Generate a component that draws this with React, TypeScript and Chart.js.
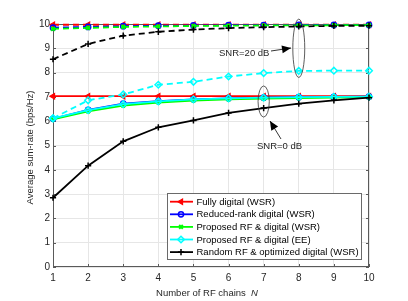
import React, { useEffect, useRef } from "react";
import { Chart, registerables } from "chart.js";
import { drawPoint } from "chart.js/helpers";

Chart.register(...registerables);

// ---------- data ----------
const CHAINS = [1, 2, 3, 4, 5, 6, 7, 8, 9, 10];
const Y_TICKS = [0, 1, 2, 3, 4, 5, 6, 7, 8, 9, 10];

// SNR = 20 dB (dashed)
const fullyDigital20 = [9.97, 9.97, 9.97, 9.97, 9.97, 9.97, 9.97, 9.97, 9.97, 9.97];
const reducedRank20 = [9.85, 9.88, 9.91, 9.93, 9.94, 9.95, 9.95, 9.96, 9.96, 9.96];
const proposedWsr20 = [9.8, 9.84, 9.88, 9.9, 9.92, 9.93, 9.94, 9.94, 9.95, 9.95];
const proposedEe20 = [6.12, 6.86, 7.1, 7.5, 7.62, 7.84, 7.98, 8.07, 8.08, 8.08];
const randomRf20 = [8.55, 9.18, 9.52, 9.68, 9.77, 9.83, 9.87, 9.9, 9.92, 9.93];

// SNR = 0 dB (solid)
const fullyDigital0 = [7.03, 7.03, 7.03, 7.03, 7.03, 7.03, 7.03, 7.03, 7.03, 7.03];
const reducedRank0 = [6.1, 6.47, 6.72, 6.83, 6.9, 6.94, 6.97, 6.99, 7.0, 7.01];
const proposedWsr0 = [6.08, 6.4, 6.64, 6.77, 6.85, 6.9, 6.93, 6.95, 6.97, 6.98];
const proposedEe0 = [6.12, 6.46, 6.7, 6.82, 6.9, 6.94, 6.97, 6.99, 7.0, 7.01];
const randomRf0 = [2.85, 4.17, 5.17, 5.75, 6.03, 6.34, 6.54, 6.72, 6.86, 6.97];

const SERIES_NAMES = [
  "Fully digital (WSR)",
  "Reduced-rank digital (WSR)",
  "Proposed RF & digital (WSR)",
  "Proposed RF & digital (EE)",
  "Random RF & optimized digital (WSR)",
];

const X_TITLE = "Number of RF chains  ";
const X_TITLE_VAR = "N";
const Y_TITLE = "Average sum-rate (bps/Hz)";
const ANNOT_20 = "SNR=20 dB";
const ANNOT_0 = "SNR=0 dB";

// ---------- styles ----------
const FONT = '"Liberation Sans", Arial, Helvetica, sans-serif';
const FS = 9.5;
const STYLES = [
  { color: "#ff0000", pointStyle: "triangle", rotation: -90, radius: 3.1, fill: "#ff0000", bw: 1.2 },
  { color: "#0000ff", pointStyle: "circle", rotation: 0, radius: 2.6, fill: "rgba(0,0,0,0)", bw: 1.5 },
  { color: "#00ff00", pointStyle: "crossRot", rotation: 0, radius: 2.6, fill: "rgba(0,0,0,0)", bw: 2 },
  { color: "#00ffff", pointStyle: "rectRot", rotation: 0, radius: 3.3, fill: "rgba(0,0,0,0)", bw: 1.5 },
  { color: "#000000", pointStyle: "cross", rotation: 0, radius: 3.1, fill: "rgba(0,0,0,0)", bw: 1.5 },
];

const SERIES_0 = [fullyDigital0, reducedRank0, proposedWsr0, proposedEe0, randomRf0];
const SERIES_20 = [fullyDigital20, reducedRank20, proposedWsr20, proposedEe20, randomRf20];

function makeDataset(values: number[], idx: number, dashed: boolean) {
  const s = STYLES[idx];
  return {
    label: SERIES_NAMES[idx] + (dashed ? " 20dB" : " 0dB"),
    data: CHAINS.map((c, i) => ({ x: c, y: values[i] })),
    borderColor: s.color,
    backgroundColor: s.color,
    borderWidth: 1.8,
    borderDash: dashed ? [6, 4] : [],
    pointStyle: s.pointStyle,
    pointRotation: s.rotation,
    pointRadius: s.radius,
    pointBorderWidth: s.bw,
    pointBorderColor: s.color,
    pointBackgroundColor: s.fill,
    pointHoverRadius: s.radius,
    tension: 0,
    clip: false as any,
    order: 10 - idx,
  };
}

const boxPlugin = {
  id: "matlabBox",
  beforeDatasetsDraw(chart: any) {
    const { ctx, chartArea } = chart;
    const { left, right, top, bottom } = chartArea;
    const xs = chart.scales.x;
    const ys = chart.scales.y;
    ctx.save();
    ctx.strokeStyle = "#5a5a5a";
    ctx.lineWidth = 1;
    ctx.strokeRect(left + 0.5, top + 0.5, right - left - 1, bottom - top - 1);
    ctx.beginPath();
    const tl = 3;
    CHAINS.forEach((c) => {
      const px = Math.round(xs.getPixelForValue(c)) + 0.5;
      ctx.moveTo(px, bottom);
      ctx.lineTo(px, bottom - tl);
      ctx.moveTo(px, top);
      ctx.lineTo(px, top + tl);
    });
    Y_TICKS.forEach((t) => {
      const py = Math.round(ys.getPixelForValue(t)) + 0.5;
      ctx.moveTo(left, py);
      ctx.lineTo(left + tl, py);
      ctx.moveTo(right, py);
      ctx.lineTo(right - tl, py);
    });
    ctx.stroke();
    ctx.restore();
  },
  afterDraw(chart: any) {
    const { ctx, chartArea } = chart;
    const xs = chart.scales.x;
    const ys = chart.scales.y;
    ctx.save();
    ctx.font = `${FS}px ${FONT}`;
    ctx.fillStyle = "#262626";

    // axis titles
    const w1 = ctx.measureText(X_TITLE).width;
    ctx.font = `italic ${FS}px ${FONT}`;
    const w2 = ctx.measureText(X_TITLE_VAR).width;
    const cx = (chartArea.left + chartArea.right) / 2 - 4;
    const startX = cx - (w1 + w2) / 2;
    ctx.textBaseline = "alphabetic";
    ctx.textAlign = "left";
    ctx.font = `${FS}px ${FONT}`;
    ctx.fillText(X_TITLE, startX, 296);
    ctx.font = `italic ${FS}px ${FONT}`;
    ctx.fillText(X_TITLE_VAR, startX + w1, 296);

    ctx.font = `${FS}px ${FONT}`;
    ctx.save();
    ctx.translate(30.5, (chartArea.top + chartArea.bottom) / 2 + 2);
    ctx.rotate(-Math.PI / 2);
    ctx.textAlign = "center";
    ctx.textBaseline = "middle";
    ctx.fillText(Y_TITLE, 0, 0);
    ctx.restore();

    // ellipses
    ctx.strokeStyle = "#333";
    ctx.lineWidth = 0.8;
    const ell = (x: number, y: number, rxv: number, ryv: number) => {
      const px = xs.getPixelForValue(x);
      const py = ys.getPixelForValue(y);
      const rx = Math.abs(xs.getPixelForValue(x + rxv) - px);
      const ry = Math.abs(ys.getPixelForValue(y + ryv) - py);
      ctx.beginPath();
      ctx.ellipse(px, py, rx, ry, 0, 0, Math.PI * 2);
      ctx.stroke();
    };
    ell(8, 9.0, 0.17, 1.2);
    ell(7, 6.81, 0.16, 0.64);

    // arrows
    const arrow = (x1: number, y1: number, x2: number, y2: number) => {
      ctx.strokeStyle = "#000";
      ctx.fillStyle = "#000";
      ctx.lineWidth = 0.8;
      ctx.beginPath();
      ctx.moveTo(x1, y1);
      ctx.lineTo(x2, y2);
      ctx.stroke();
      const ang = Math.atan2(y2 - y1, x2 - x1);
      const L = 9, W = 4;
      ctx.beginPath();
      ctx.moveTo(x2, y2);
      ctx.lineTo(x2 - L * Math.cos(ang) + W * Math.sin(ang), y2 - L * Math.sin(ang) - W * Math.cos(ang));
      ctx.lineTo(x2 - L * Math.cos(ang) - W * Math.sin(ang), y2 - L * Math.sin(ang) + W * Math.cos(ang));
      ctx.closePath();
      ctx.fill();
    };
    arrow(271, 51, 291, 48);
    arrow(281, 139, 270, 121);

    ctx.fillStyle = "#262626";
    ctx.font = `${FS}px ${FONT}`;
    ctx.textAlign = "left";
    ctx.textBaseline = "middle";
    ctx.fillText(ANNOT_20, 219, 53);
    ctx.fillText(ANNOT_0, 257, 146);

    // legend
    const bx = 167, by = 193, bw = 194, bh = 66;
    ctx.fillStyle = "#ffffff";
    ctx.fillRect(bx, by, bw, bh);
    ctx.strokeStyle = "#6a6a6a";
    ctx.lineWidth = 1;
    ctx.strokeRect(bx + 0.5, by + 0.5, bw, bh);
    SERIES_NAMES.forEach((name, i) => {
      const s = STYLES[i];
      const ry = 201.7 + i * 12.6;
      ctx.strokeStyle = s.color;
      ctx.lineWidth = 1.8;
      ctx.setLineDash([]);
      ctx.beginPath();
      ctx.moveTo(170, ry);
      ctx.lineTo(193, ry);
      ctx.stroke();
      ctx.fillStyle = s.fill;
      ctx.lineWidth = s.bw;
      drawPoint(ctx, { pointStyle: s.pointStyle as any, rotation: s.rotation, radius: s.radius, borderWidth: s.bw } as any, 181, ry);
      ctx.fillStyle = "#000";
      ctx.font = `${FS}px ${FONT}`;
      ctx.textAlign = "left";
      ctx.textBaseline = "middle";
      ctx.fillText(name, 196.5, ry + 0.5);
    });
    ctx.restore();
  },
};

export default function App() {
  const ref = useRef<HTMLCanvasElement | null>(null);
  useEffect(() => {
    document.body.style.margin = "0";
    if (!ref.current) return;
    const datasets: any[] = [];
    SERIES_20.forEach((v, i) => datasets.push(makeDataset(v, i, true)));
    SERIES_0.forEach((v, i) => datasets.push(makeDataset(v, i, false)));
    const chart = new Chart(ref.current, {
      type: "line",
      data: { datasets },
      plugins: [boxPlugin],
      options: {
        responsive: false,
        animation: false,
        devicePixelRatio: 1,
        layout: { padding: { left: 0, right: 39, top: 24, bottom: 0 } },
        plugins: { legend: { display: false }, tooltip: { enabled: false } },
        scales: {
          x: {
            type: "linear",
            min: 1,
            max: 10,
            afterFit: (s: any) => { s.height = 34; },
            afterBuildTicks: (s: any) => { s.ticks = CHAINS.map((v) => ({ value: v })); },
            ticks: { stepSize: 1, padding: 5, color: "#262626", font: { family: FONT, size: 10 }, maxRotation: 0 },
            grid: { color: "#e6e6e6", drawTicks: false, lineWidth: 1 },
            border: { display: false },
          },
          y: {
            min: 0,
            max: 10,
            afterFit: (s: any) => { s.width = 53; },
            afterBuildTicks: (s: any) => { s.ticks = Y_TICKS.map((v) => ({ value: v })); },
            ticks: { stepSize: 1, padding: 3, color: "#262626", font: { family: FONT, size: 10 } },
            grid: { color: "#e6e6e6", drawTicks: false, lineWidth: 1 },
            border: { display: false },
          },
        },
      } as any,
    });
    return () => chart.destroy();
  }, []);
  return (
    <div style={{ position: "absolute", left: 0, top: 0, width: 408, height: 301, background: "#fff" }}>
      <canvas ref={ref} width={408} height={301} style={{ width: 408, height: 301, display: "block" }} />
    </div>
  );
}
